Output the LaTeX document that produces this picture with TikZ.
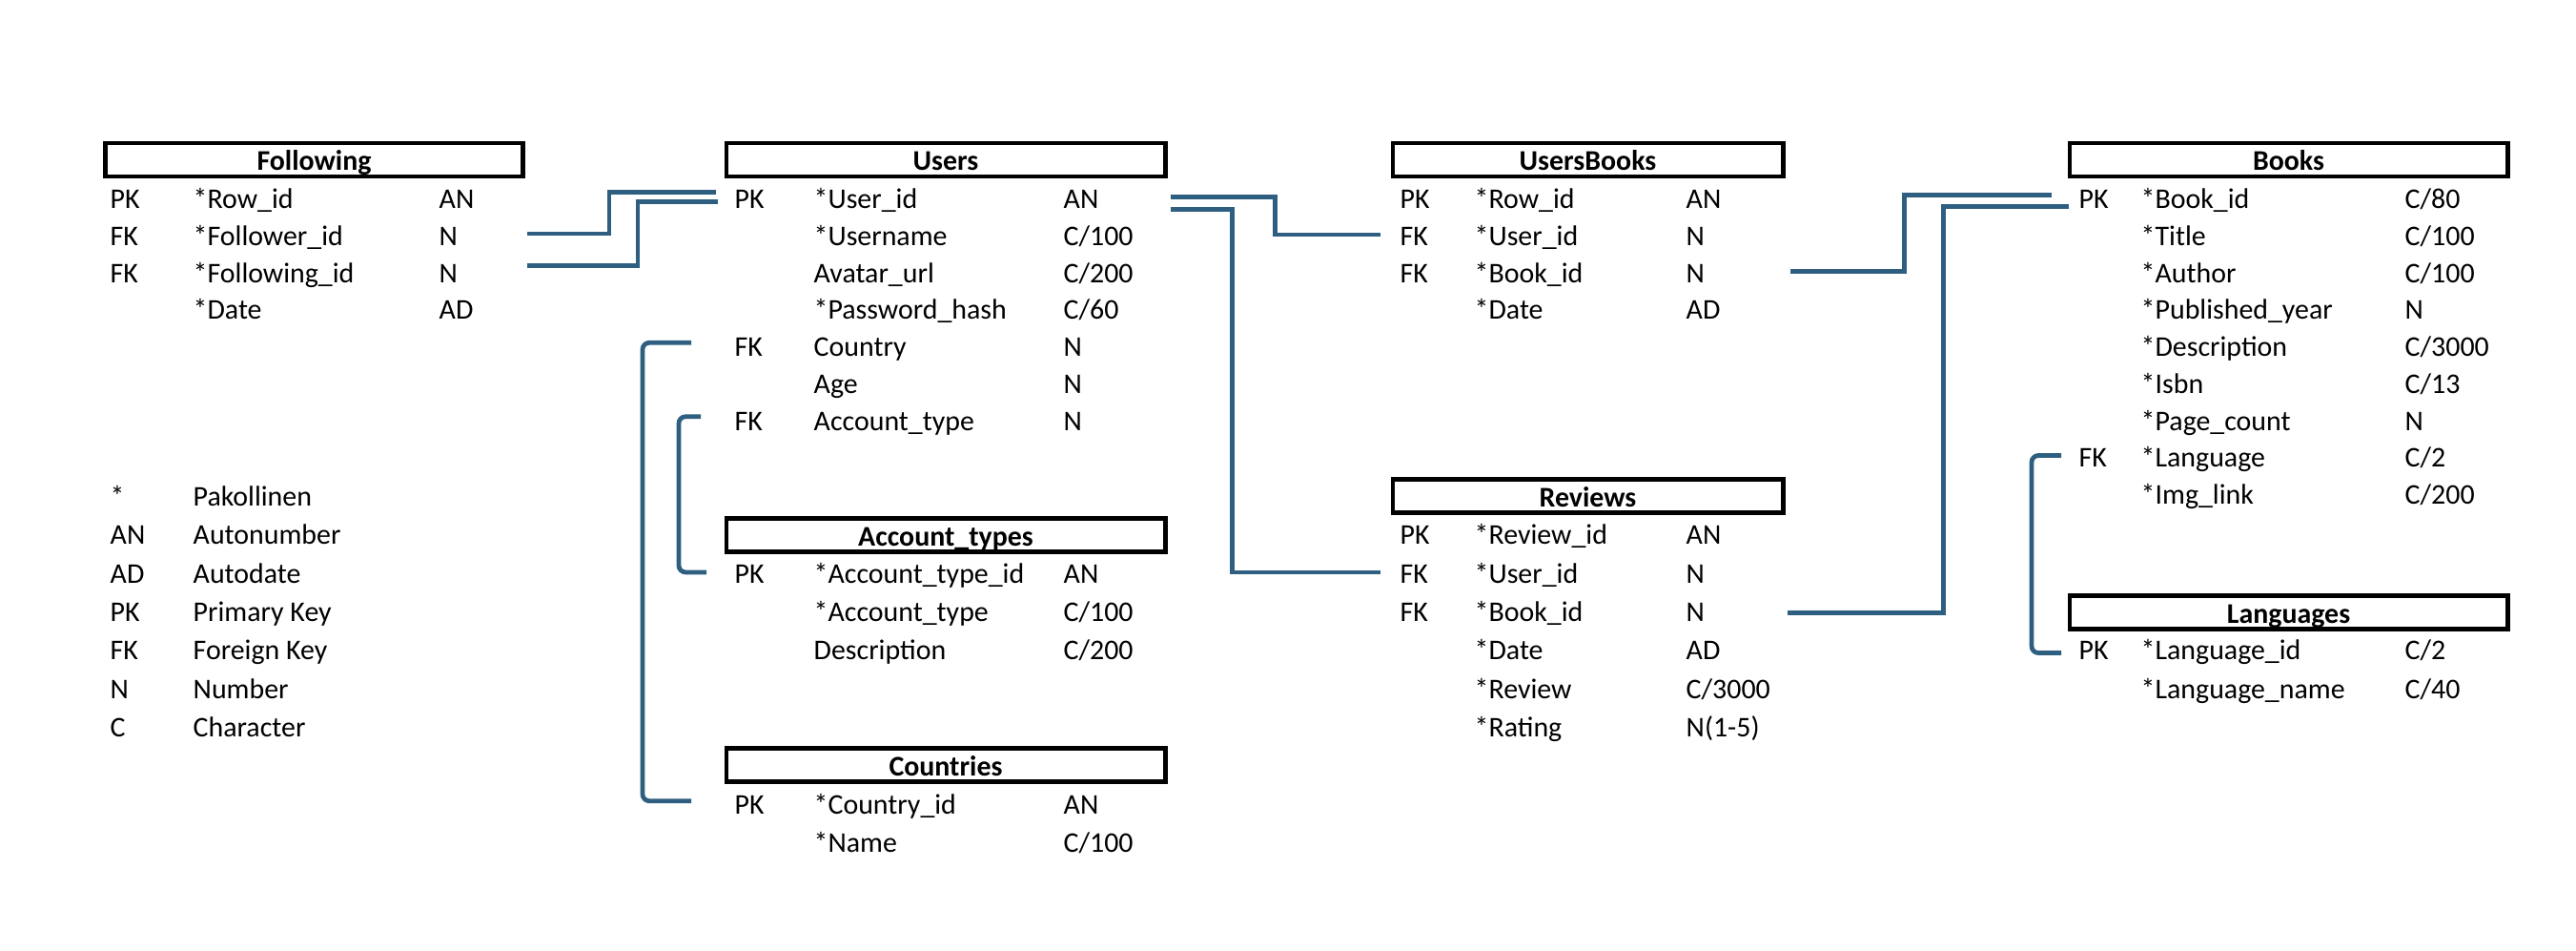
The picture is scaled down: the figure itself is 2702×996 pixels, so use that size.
\documentclass[tikz,border=0pt]{standalone}
\usepackage{fontspec}
\setmainfont{Carlito}
\usetikzlibrary{calc}
\definecolor{linkblue}{RGB}{46,94,128}

\begin{document}
\begin{tikzpicture}[x=0.01cm, y=-0.01cm, font=\fontsize{8.5pt}{10pt}\selectfont]
	\tikzstyle{table} = [draw=black, line width=1.35pt, inner sep=0pt, minimum height=0.35cm, text height=0.644em, text depth=0pt, font=\fontsize{8.5pt}{10pt}\selectfont\bfseries]
	\tikzstyle{cell}  = [anchor=base west, inner sep=0pt, text height=0.644em, text depth=0pt]
	\tikzstyle{link}  = [draw=linkblue, line width=1.35pt]

	\useasboundingbox (0,0) rectangle (2702,996);
%	\draw[step=100, gray!30] (0,0) grid (2702,996);

	\node[table, minimum width=4.38cm] (fol)   at (329.5, 167.5) {Following};
	\node[table, minimum width=4.60cm] (users) at (992, 167.5)   {Users};
	\node[table, minimum width=4.09cm] (ub)    at (1665.5, 167.5) {UsersBooks};
	\node[table, minimum width=4.59cm] (books) at (2400.5, 167.5) {Books};
	\node[table, minimum width=4.09cm] (rev)   at (1665.5, 520) {Reviews};
	\node[table, minimum width=4.60cm] (acct)  at (992, 561)   {Account\_types};
	\node[table, minimum width=4.59cm] (lang)  at (2400.5, 642) {Languages};
	\node[table, minimum width=4.60cm] (ctry)  at (992, 802)   {Countries};

	\foreach \k/\f/\t [count=\i from 0] in {PK/{*Row\_id}/AN, FK/{*Follower\_id}/N, FK/{*Following\_id}/N, /{*Date}/AD}{
		\node[cell] (fol-k\i) at (115, {218.6+38.75*\i}) {\k};
		\node[cell] (fol-f\i) at (202, {218.6+38.75*\i}) {\f};
		\node[cell] (fol-t\i) at (460, {218.6+38.75*\i}) {\t};
	}
	\foreach \k/\f/\t [count=\i from 0] in {PK/{*User\_id}/AN, /{*Username}/{C/100}, /{Avatar\_url}/{C/200}, /{*Password\_hash}/{C/60}, FK/{Country}/N, /{Age}/N, FK/{Account\_type}/N}{
		\node[cell] (users-k\i) at (770, {218.6+38.75*\i}) {\k};
		\node[cell] (users-f\i) at (853, {218.6+38.75*\i}) {\f};
		\node[cell] (users-t\i) at (1115, {218.6+38.75*\i}) {\t};
	}
	\foreach \k/\f/\t [count=\i from 0] in {PK/{*Row\_id}/AN, FK/{*User\_id}/N, FK/{*Book\_id}/N, /{*Date}/AD}{
		\node[cell] (ub-k\i) at (1468, {218.6+38.75*\i}) {\k};
		\node[cell] (ub-f\i) at (1546, {218.6+38.75*\i}) {\f};
		\node[cell] (ub-t\i) at (1768, {218.6+38.75*\i}) {\t};
	}
	\foreach \k/\f/\t [count=\i from 0] in {PK/{*Book\_id}/{C/80}, /{*Title}/{C/100}, /{*Author}/{C/100}, /{*Published\_year}/N, /{*Description}/{C/3000}, /{*Isbn}/{C/13}, /{*Page\_count}/N, FK/{*Language}/{C/2}, /{*Img\_link}/{C/200}}{
		\node[cell] (books-k\i) at (2180, {218.6+38.75*\i}) {\k};
		\node[cell] (books-f\i) at (2245, {218.6+38.75*\i}) {\f};
		\node[cell] (books-t\i) at (2522, {218.6+38.75*\i}) {\t};
	}
	\foreach \k/\f/\t [count=\i from 0] in {PK/{*Review\_id}/AN, FK/{*User\_id}/N, FK/{*Book\_id}/N, /{*Date}/AD, /{*Review}/{C/3000}, /{*Rating}/{N(1-5)}}{
		\node[cell] (rev-k\i) at (1468, {570.9+40.3*\i}) {\k};
		\node[cell] (rev-f\i) at (1546, {570.9+40.3*\i}) {\f};
		\node[cell] (rev-t\i) at (1768, {570.9+40.3*\i}) {\t};
	}
	\foreach \k/\f/\t [count=\i from 0] in {PK/{*Account\_type\_id}/AN, /{*Account\_type}/{C/100}, /{Description}/{C/200}}{
		\node[cell] (acct-k\i) at (770, {611.2+40.3*\i}) {\k};
		\node[cell] (acct-f\i) at (853, {611.2+40.3*\i}) {\f};
		\node[cell] (acct-t\i) at (1115, {611.2+40.3*\i}) {\t};
	}
	\foreach \k/\f/\t [count=\i from 0] in {PK/{*Language\_id}/{C/2}, /{*Language\_name}/{C/40}}{
		\node[cell] (lang-k\i) at (2180, {691.8+40.3*\i}) {\k};
		\node[cell] (lang-f\i) at (2245, {691.8+40.3*\i}) {\f};
		\node[cell] (lang-t\i) at (2522, {691.8+40.3*\i}) {\t};
	}
	\foreach \k/\f/\t [count=\i from 0] in {PK/{*Country\_id}/AN, /{*Name}/{C/100}}{
		\node[cell] (ctry-k\i) at (770, {853+40.3*\i}) {\k};
		\node[cell] (ctry-f\i) at (853, {853+40.3*\i}) {\f};
		\node[cell] (ctry-t\i) at (1115, {853+40.3*\i}) {\t};
	}

	% selite
	\foreach \a/\b [count=\i from 0] in {*/Pakollinen, AN/Autonumber, AD/Autodate, PK/Primary Key, FK/Foreign Key, N/Number, C/Character}{
		\node[cell] (leg-a\i) at (115, {530.6+40.3*\i}) {\a};
		\node[cell] (leg-b\i) at (202, {530.6+40.3*\i}) {\b};
	}

	\draw[link] ($(fol.east |- fol-t1.west)+(2,-1)$) -- ++(86,0) |- ($(users-k0.west)+(-19,-6)$);
	\draw[link] ($(fol.east |- fol-t2.west)+(2,-6)$) -- ++(116,0) |- ($(users-k0.west)+(-17,4)$);
	\draw[link] ($(users.east |- users-t0.west)+(3,-1)$) -- ++(110,0) |- ($(ub-k1.west)+(-20,0)$);
	\draw[link] ($(users.east |- users-t0.west)+(3,12)$) -- ++(65,0) |- ($(rev-k1.west)+(-20,0)$);
	\draw[link] ($(ub.east |- ub-t2.west)+(5,0)$) -- ++(120,0) |- ($(books-k0.west)+(-28,-3)$);
	\draw[link] ($(rev.east |- rev-t2.west)+(2,2)$) -- ++(164,0) |- ($(books-k0.west)+(-10,9)$);
	\draw[link, rounded corners=2pt] ($(users-k4.west)+(-45,-3)$) -- ++(-51,0) |- ($(ctry-k0.west)+(-45,-2)$);
	\draw[link, rounded corners=2pt] ($(users-k6.west)+(-35,-3)$) -- ++(-23,0) |- ($(acct-k0.west)+(-29,0)$);
	\draw[link, rounded corners=2pt] ($(books-k7.west)+(-18,-1)$) -- ++(-31,0) |- ($(lang-k0.west)+(-18,4)$);
\end{tikzpicture}
\end{document}
